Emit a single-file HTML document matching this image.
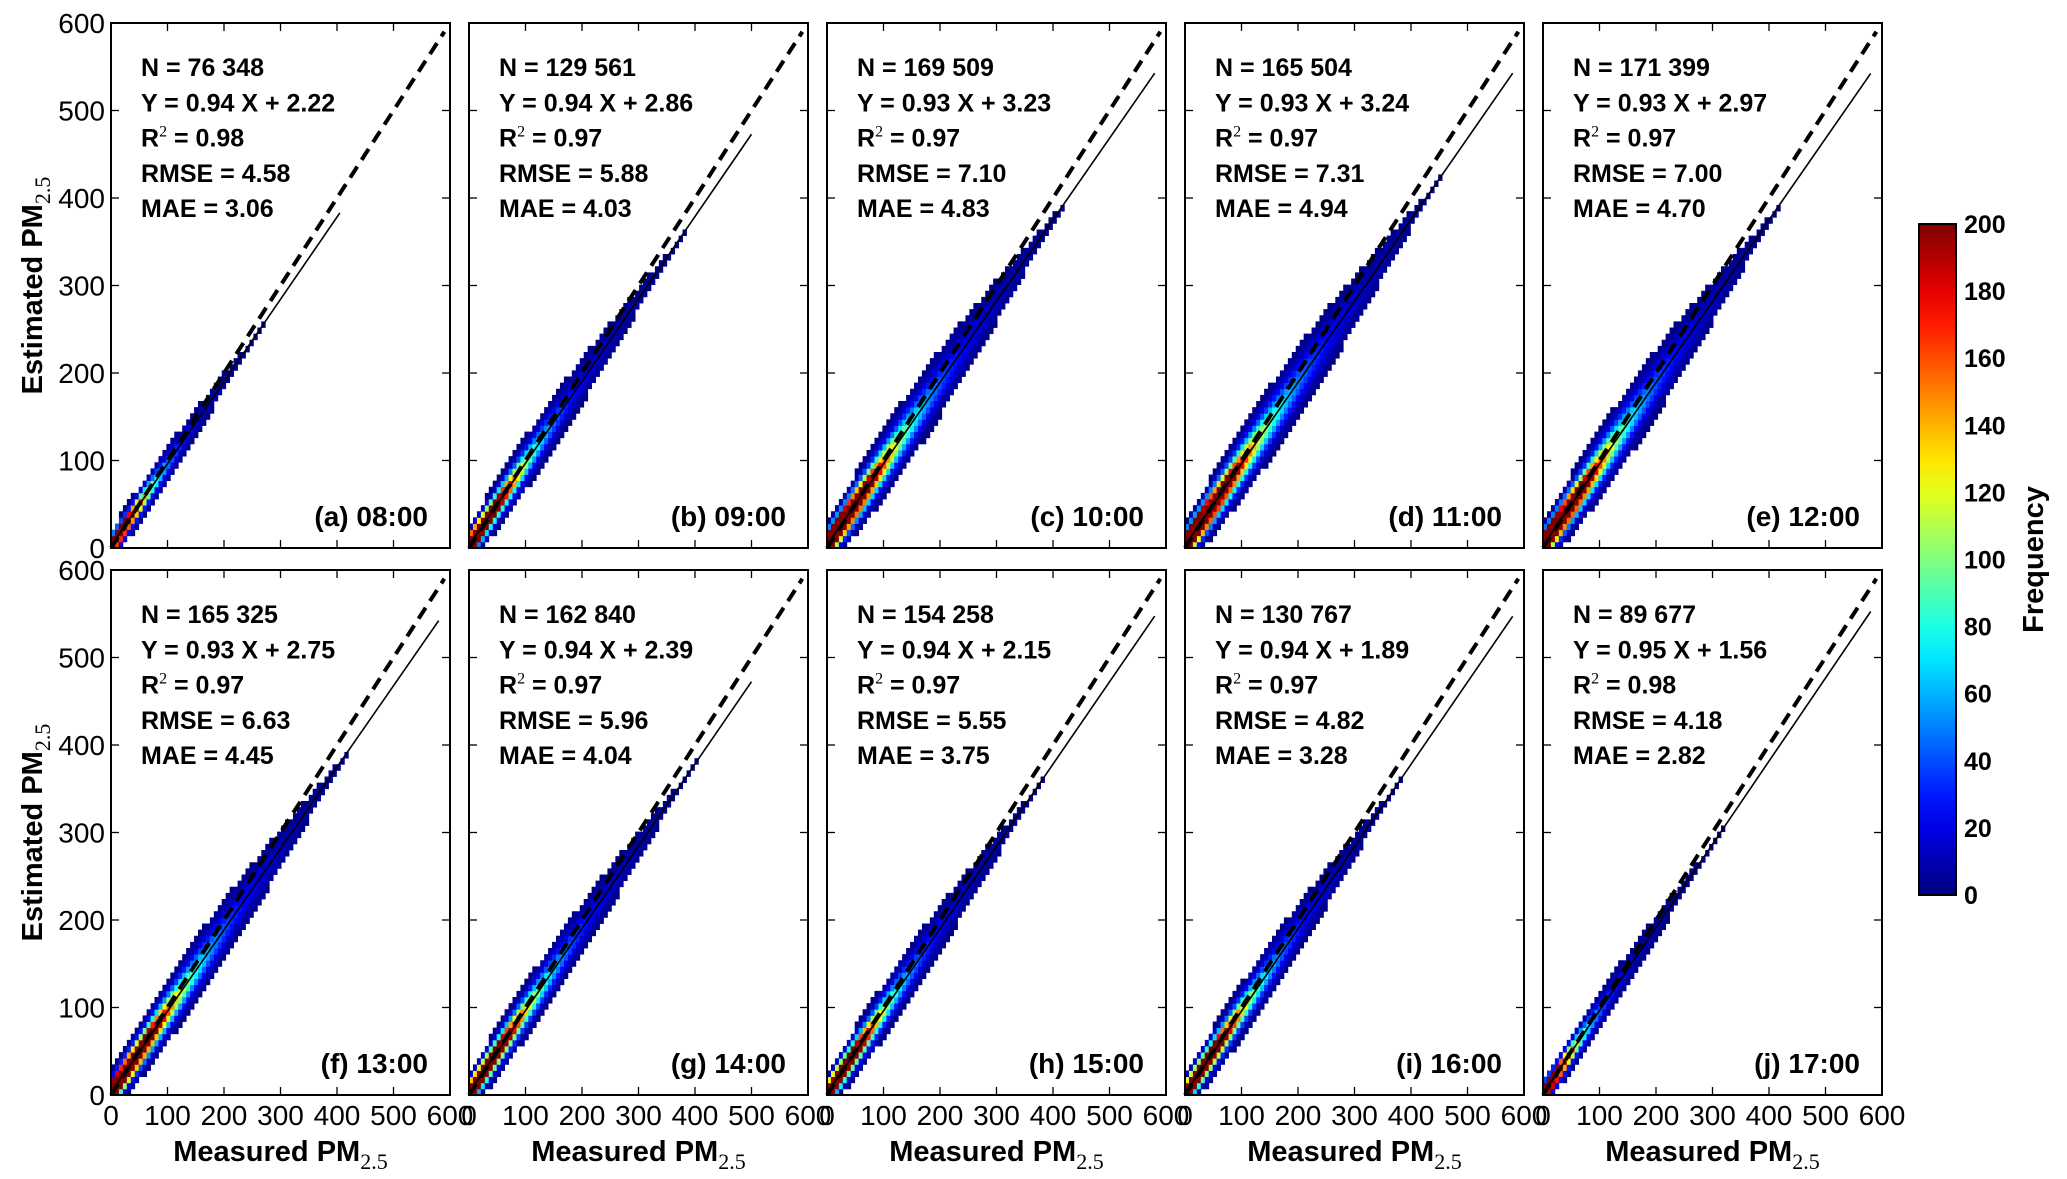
<!DOCTYPE html>
<html><head><meta charset="utf-8">
<style>
html,body{margin:0;padding:0;background:#fff;}
svg{display:block;font-family:"Liberation Sans",sans-serif;}
</style></head>
<body>
<svg id="fig" width="2067" height="1179" viewBox="0 0 2067 1179" xmlns="http://www.w3.org/2000/svg"></svg>
<script>
// ---- data ----
const panelLabels = ["(a) 08:00","(b) 09:00","(c) 10:00","(d) 11:00","(e) 12:00","(f) 13:00","(g) 14:00","(h) 15:00","(i) 16:00","(j) 17:00"];
const nValues = ["76 348","129 561","169 509","165 504","171 399","165 325","162 840","154 258","130 767","89 677"];
const slopes = [0.94,0.94,0.93,0.93,0.93,0.93,0.94,0.94,0.94,0.95];
const intercepts = [2.22,2.86,3.23,3.24,2.97,2.75,2.39,2.15,1.89,1.56];
const r2Values = ["0.98","0.97","0.97","0.97","0.97","0.97","0.97","0.97","0.97","0.98"];
const rmseValues = ["4.58","5.88","7.10","7.31","7.00","6.63","5.96","5.55","4.82","4.18"];
const maeValues = ["3.06","4.03","4.83","4.94","4.70","4.45","4.04","3.75","3.28","2.82"];
const fitEnds = [405,500,580,580,580,580,500,580,580,580];
const cloudExtents = [270,380,420,450,420,420,400,380,380,320];
const coreLengths = [35,50,65,70,65,65,58,52,58,32];
const spreads = [8,10,12,12,12,11,10,10,10,8];
const axisTicks = [0,100,200,300,400,500,600];
const cbarTicks = [0,20,40,60,80,100,120,140,160,180,200];

// ---- layout ----
const svg = document.getElementById('fig');
const NS = "http://www.w3.org/2000/svg";
const lefts = [111,469,827,1185,1543];
const tops = [23,570];
const PW = 339, PH = 525;
function el(tag, attrs, parent){ const e=document.createElementNS(NS,tag); for(const k in attrs) e.setAttribute(k,attrs[k]); (parent||svg).appendChild(e); return e; }
function jet(v){
  const r=Math.min(Math.max(Math.min(4*v-1.5,-4*v+4.5),0),1);
  const g=Math.min(Math.max(Math.min(4*v-0.5,-4*v+3.5),0),1);
  const b=Math.min(Math.max(Math.min(4*v+0.5,-4*v+2.5),0),1);
  return `rgb(${Math.round(r*255)},${Math.round(g*255)},${Math.round(b*255)})`;
}

for(let i=0;i<10;i++){
  const L = lefts[i%5], T = tops[Math.floor(i/5)], B = T+PH;
  const sx = v => L + v/600*PW;
  const sy = v => B - v/600*PH;
  const g = el('g',{});
  
  
  const cl = el('clipPath',{id:'c'+i},g);
  el('rect',{x:L,y:T,width:PW,height:PH},cl);
  const hm = el('g',{'clip-path':`url(#c${i})`},g);
  
  
  const cs = 7;
  const E = cloudExtents[i];
  for(let x=0; x<E; x+=cs){
    const cx = x+cs/2;
    const c = slopes[i]*cx+intercepts[i];
    const taper = Math.max(0.08, 1-Math.pow(cx/E,1.6));
    const s = spreads[i]*(0.9+cx/130)*taper;
    const peak = 700*Math.exp(-cx/coreLengths[i])+40*Math.exp(-cx/(E/3));
    for(let y=Math.floor((c-3*s)/cs)*cs; y<c+3*s; y+=cs){
      if(y+cs<0) continue;
      const d=(y+cs/2-c)/Math.max(s,2);
      const f = peak*Math.exp(-d*d);
      if(f<1.2) continue;
      el('rect',{x:sx(x).toFixed(2),y:sy(y+cs).toFixed(2),width:(cs/600*PW+0.4).toFixed(2),height:(cs/600*PH+0.4).toFixed(2),fill:jet(Math.min(f,200)/200)},hm);
    }
  }
  const one = el('line',{x1:sx(0),y1:sy(0),x2:sx(590),y2:sy(590),stroke:'#000','stroke-width':4,'stroke-dasharray':'13,8'},g);
   
  const fit = el('line',{x1:sx(0),y1:sy(intercepts[i]),x2:sx(fitEnds[i]),y2:sy(slopes[i]*fitEnds[i]+intercepts[i]),stroke:'#000','stroke-width':1.6},g);
   
  const fr = el('rect',{x:L,y:T,width:PW,height:PH,fill:'none',stroke:'#000','stroke-width':2},g);
   
  axisTicks.forEach(t=>{
    if(t>0&&t<600){
      el('line',{x1:sx(t),y1:B,x2:sx(t),y2:B-8,stroke:'#000','stroke-width':1.3},g);
      el('line',{x1:sx(t),y1:T,x2:sx(t),y2:T+8,stroke:'#000','stroke-width':1.3},g);
      el('line',{x1:L,y1:sy(t),x2:L+8,y2:sy(t),stroke:'#000','stroke-width':1.3},g);
      el('line',{x1:L+PW,y1:sy(t),x2:L+PW-8,y2:sy(t),stroke:'#000','stroke-width':1.3},g);
    }
    if(i%5===0){
      const tl = el('text',{x:L-6,y:sy(t)+10,'text-anchor':'end','font-size':28,fill:'#000'},g);
      tl.textContent=t;  
    }
    if(i>=5){
      const tl = el('text',{x:sx(t),y:B+30,'text-anchor':'middle','font-size':28,fill:'#000'},g);
      tl.textContent=t;  
    }
  });
  const lines = ['N = '+nValues[i],'Y = '+slopes[i].toFixed(2)+' X + '+intercepts[i].toFixed(2),'R2','RMSE = '+rmseValues[i],'MAE = '+maeValues[i]];
  lines.forEach((s,k)=>{
    const tx = el('text',{x:L+30,y:T+53+k*35.3,'font-size':25,'font-weight':'bold',fill:'#000'},g);
     
    if(s==='R2'){
      tx.textContent='R';
      const sup=el('tspan',{dy:-10,'font-size':16,'font-weight':'normal','font-family':'Liberation Serif, serif'},tx); sup.textContent='2';
      const rest=el('tspan',{dy:10},tx); rest.textContent=' = '+r2Values[i];
    } else tx.textContent=s;
  });
  const pl = el('text',{x:L+PW-22,y:T+PH-22,'text-anchor':'end','font-size':28,'font-weight':'bold',fill:'#000'},g);
  pl.textContent=panelLabels[i];  
  if(i>=5){
    const xl = el('text',{x:L+PW/2,y:1161,'text-anchor':'middle','font-size':29,'font-weight':'bold',fill:'#000'},g);
     
    xl.textContent='Measured PM';
    const sb=el('tspan',{dy:8,'font-size':22,'font-weight':'normal','font-family':'Liberation Serif, serif'},xl); sb.textContent='2.5';
  }
  if(i%5===0){
    const yc=T+PH/2;
    const yl = el('text',{x:0,y:0,transform:`translate(42,${yc}) rotate(-90)`,'text-anchor':'middle','font-size':29,'font-weight':'bold',fill:'#000'},g);
     
    yl.textContent='Estimated PM';
    const sb=el('tspan',{dy:8,'font-size':22,'font-weight':'normal','font-family':'Liberation Serif, serif'},yl); sb.textContent='2.5';
  }
}

const cbT=224, cbB=895, cbL=1919, cbW=37;
const defs = el('defs',{});
const grad = el('linearGradient',{id:'jetg',x1:0,y1:1,x2:0,y2:0},defs);
for(let k=0;k<=20;k++){ el('stop',{offset:(k/20),'stop-color':jet(k/20)},grad); }
const cb = el('rect',{x:cbL,y:cbT,width:cbW,height:cbB-cbT,fill:'url(#jetg)',stroke:'#000','stroke-width':2});
 
cbarTicks.forEach(t=>{
  const y = cbB - t/200*(cbB-cbT);
  const tl = el('text',{x:cbL+cbW+8,y:y+9,'font-size':25,'font-weight':'bold',fill:'#000'});
  tl.textContent=t;  
});
const ft = el('text',{x:0,y:0,transform:`translate(2043,${(cbT+cbB)/2}) rotate(-90)`,'text-anchor':'middle','font-size':29,'font-weight':'bold',fill:'#000'});
ft.textContent='Frequency';  
</script>
</body></html>
